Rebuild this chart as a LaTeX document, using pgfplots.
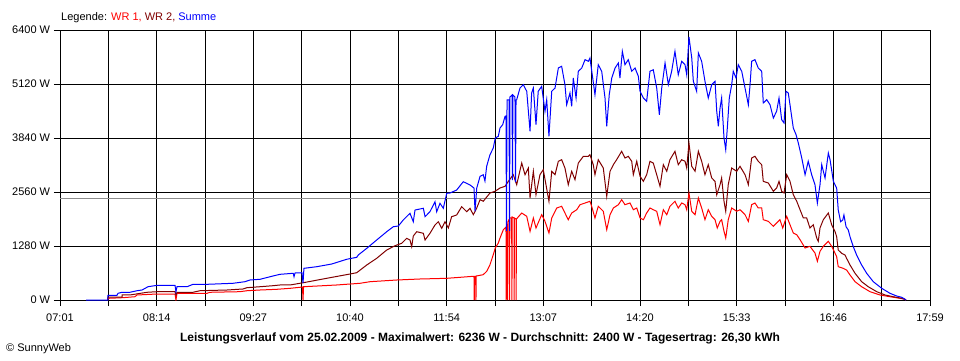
\documentclass[border=0pt]{standalone}
\usepackage{fontspec}
\setmainfont{Liberation Sans}
\usepackage{pgfplots}
\pgfplotsset{compat=1.18}
\definecolor{wrone}{RGB}{255,0,0}
\definecolor{wrtwo}{RGB}{128,0,0}
\definecolor{summe}{RGB}{0,0,255}
\definecolor{avgline}{RGB}{140,140,140}
\begin{document}
\fontsize{11}{13}\selectfont
\begin{tikzpicture}
\useasboundingbox (0pt,0pt) rectangle (960pt,360pt);
\begin{axis}[
  at={(60pt,60pt)}, anchor=south west,
  scale only axis, width=870pt, height=270pt,
  xmin=0, xmax=658, ymin=0, ymax=6400,
  xtick={0,36.556,73.111,109.667,146.222,182.778,219.333,255.889,292.444,329,365.556,402.111,438.667,475.222,511.778,548.333,584.889,621.444,658},
  xticklabels={07:01,,08:14,,09:27,,10:40,,11:54,,13:07,,14:20,,15:33,,16:46,,17:59},
  ytick={0,1280,2560,3840,5120,6400},
  yticklabels={0 W,1280 W,2560 W,3840 W,5120 W,6400 W},
  grid=major, major grid style={black, line width=1pt},
  axis line style={black, line width=1pt},
  tick align=outside, tick pos=left, tick style={black, line width=1pt},
  major tick length=6pt,
  tick label style={font=\fontsize{11}{13}\selectfont},
  xticklabel style={yshift=-4pt},
  every axis plot/.append style={line width=1pt},
]
\addplot[avgline, forget plot] coordinates {(0,2400) (658,2400)};
\addplot[wrone] coordinates {(36.3,0)(36.3,40)(47.6,55)(56.7,78)(58.2,119)(73.4,142)(87.0,142)(87.7,0)(88.5,159)(111.2,159)(113.4,183)(136.1,197)(141.4,220)(151.3,237)(164.1,254)(174.0,277)(183.4,308)(183.8,0)(184.2,315)(209.3,356)(226.9,396)(234.5,434)(254.6,474)(272.3,498)(292.5,514)(312.6,562)(313.1,562)(313.3,0)(313.6,562)(314.4,562)(314.6,0)(314.8,569)(320.1,600)(322.7,680)(325.2,837)(327.7,1074)(329.2,1233)(331.5,1351)(332.8,1470)(335.3,1666)(337.3,1730)(337.5,0)(337.7,1730)(338.3,1778)(338.5,0)(338.7,1849)(339.8,1920)(340.0,0)(340.2,1944)(341.6,1944)(341.8,0)(342.0,1967)(343.4,1944)(343.5,0)(343.7,1944)(344.9,1920)(345.0,0)(345.2,1920)(349.2,2062)(353.0,1984)(355.5,1628)(358.0,1944)(360.0,1707)(364.3,2022)(366.8,1865)(369.8,1588)(371.9,1944)(375.7,2181)(379.4,2221)(381.9,2062)(384.4,1903)(387.0,2062)(390.8,2140)(393.3,2259)(397.1,2299)(400.8,2340)(402.1,2221)(404.6,1944)(407.1,2221)(410.9,2103)(413.5,1666)(416.0,2022)(418.5,2181)(422.3,2259)(424.8,2378)(427.3,2259)(431.1,2299)(433.6,2140)(436.2,2181)(438.7,1944)(441.2,1903)(443.7,2062)(446.2,2181)(448.7,2140)(451.3,2103)(453.8,1785)(456.3,2140)(458.9,2022)(461.3,2221)(465.1,2340)(467.6,2181)(470.2,2299)(472.7,2259)(474.0,2140)(475.7,2536)(477.8,2103)(480.3,2022)(482.8,2418)(485.3,2181)(487.8,1903)(490.3,2140)(492.9,1984)(495.4,1903)(497.1,1707)(499.2,1865)(500.4,1903)(502.2,1628)(503.5,1470)(505.4,1903)(508.0,2181)(511.8,2103)(514.3,2140)(518.1,2022)(520.6,1865)(523.1,2259)(525.6,2299)(528.1,2181)(530.7,2181)(531.9,1903)(535.7,1865)(539.5,1747)(542.0,1825)(544.5,1903)(546.6,1707)(549.6,1984)(552.1,1785)(554.6,1588)(557.2,1548)(559.7,1430)(563.5,1233)(567.2,1273)(571.0,1114)(572.8,917)(574.8,1154)(577.3,1273)(581.1,1391)(583.6,1273)(586.1,1114)(587.4,1026)(588.6,789)(592.4,751)(594.9,711)(597.5,593)(601.3,434)(606.3,315)(612.6,197)(620.2,119)(627.7,78)(635.3,40)(639.1,17)(639.8,0)};
\addplot[wrtwo] coordinates {(36.3,0)(36.3,71)(46.9,71)(46.9,119)(52.9,119)(65.8,183)(73.4,197)(87.0,197)(87.7,119)(88.5,183)(100.6,183)(105.9,220)(126.3,237)(138.4,261)(141.4,292)(151.3,315)(161.1,339)(166.4,356)(174.0,356)(184.0,410)(204.2,529)(219.3,616)(224.4,647)(232.0,830)(239.5,988)(247.1,1185)(253.4,1287)(258.4,1344)(262.2,1463)(264.7,1422)(266.0,1263)(267.2,1517)(269.8,1619)(274.8,1581)(276.1,1422)(279.8,1581)(283.6,1778)(286.1,1856)(288.7,1700)(291.2,1856)(293.7,1707)(296.2,1975)(300.0,2015)(303.8,2212)(307.6,2093)(310.1,2174)(312.6,2022)(315.2,2181)(317.7,2378)(320.1,2340)(325.2,2536)(329.0,2577)(332.8,2655)(336.6,2695)(339.1,2813)(342.8,2970)(345.4,2733)(349.2,3247)(351.7,2970)(354.2,3129)(355.5,2418)(358.0,3051)(360.0,2496)(363.0,2970)(365.5,3089)(369.8,2340)(371.9,3051)(374.4,2970)(376.9,3288)(379.4,3326)(381.9,3129)(384.4,2733)(387.0,3051)(389.5,2852)(392.0,3247)(395.8,3406)(399.6,3406)(400.8,3444)(403.3,3207)(404.6,2970)(407.1,3326)(410.9,3129)(413.5,2458)(416.0,3051)(418.5,3207)(421.0,3326)(424.8,3525)(427.3,3366)(429.8,3406)(432.4,3288)(433.6,2970)(436.2,3288)(438.7,2932)(441.2,2813)(443.7,2970)(446.2,3288)(448.7,3247)(451.3,2970)(453.8,2695)(456.3,3207)(458.9,3051)(461.3,3326)(465.1,3525)(467.6,3207)(470.2,3326)(472.7,3288)(474.0,3129)(475.7,3721)(477.8,3169)(480.3,3051)(482.8,3525)(485.3,3288)(487.8,2970)(490.3,3207)(492.9,2892)(495.4,2813)(496.7,2496)(499.2,2733)(500.4,2892)(502.2,2340)(503.5,2103)(505.4,2733)(508.0,3129)(511.8,3051)(514.3,3169)(518.1,2970)(520.6,2733)(523.1,3366)(525.6,3406)(528.1,3288)(530.7,3207)(531.9,2813)(535.7,2773)(539.5,2577)(542.0,2655)(543.8,2813)(545.8,2577)(547.6,2536)(549.6,2970)(552.1,2813)(554.6,2496)(557.2,2340)(559.7,2140)(562.2,1944)(564.7,1944)(567.2,1707)(569.7,1785)(572.3,1470)(573.5,1391)(574.8,1707)(577.3,1903)(581.1,2062)(583.6,1785)(586.1,1628)(587.4,1500)(588.6,1185)(591.2,1107)(593.7,1067)(594.9,988)(597.5,830)(601.3,633)(606.3,434)(611.3,315)(617.7,197)(624.0,119)(630.2,78)(636.6,40)(639.1,17)(639.8,0)};
\addplot[summe] coordinates {(19.7,0)(36.3,0)(36.3,111)(43.1,111)(43.9,159)(46.9,183)(52.9,183)(58.2,220)(62.0,237)(66.6,315)(73.4,348)(87.0,348)(87.7,197)(88.5,315)(96.1,315)(100.6,372)(111.2,372)(130.8,396)(139.9,434)(143.7,474)(151.3,491)(161.1,569)(166.4,609)(176.4,633)(177.0,552)(177.7,640)(183.0,647)(183.8,403)(184.5,751)(194.1,789)(205.5,853)(216.8,965)(224.4,1012)(225.6,1067)(232.0,1225)(239.5,1422)(247.1,1619)(252.1,1737)(255.9,1754)(259.6,1896)(264.7,2055)(267.2,1856)(268.5,2133)(274.8,2174)(276.1,1975)(279.8,2093)(283.6,2330)(284.9,2093)(287.4,2292)(289.9,2174)(292.5,2529)(295.0,2536)(300.0,2607)(305.0,2804)(310.1,2726)(313.1,2655)(313.9,2103)(315.2,2655)(317.7,2932)(320.1,2970)(321.4,2821)(322.7,3169)(325.2,3444)(327.7,3603)(329.2,3840)(331.5,3880)(332.8,4077)(334.8,4155)(336.6,4354)(337.3,4361)(337.7,1636)(338.1,4741)(339.6,4741)(340.0,1636)(340.3,4812)(341.9,4859)(342.2,2844)(342.6,4859)(344.1,4812)(344.5,2797)(344.9,4741)(345.4,4748)(347.9,5025)(350.4,5104)(353.0,4947)(355.5,3999)(356.7,4907)(358.0,5025)(360.0,4155)(361.7,4947)(364.3,5065)(366.8,4473)(368.1,4748)(369.8,3880)(371.9,4947)(374.4,5025)(376.9,5499)(379.4,5540)(381.9,5104)(383.2,4629)(385.7,4907)(387.0,4591)(388.2,5262)(390.3,4788)(392.0,5421)(394.6,5499)(397.1,5696)(399.6,5658)(400.8,5736)(402.9,5262)(404.6,4866)(407.1,5577)(409.7,5421)(412.2,4788)(413.5,4117)(415.4,4866)(417.3,5262)(419.8,5499)(422.3,5618)(423.5,5262)(425.3,5895)(427.3,5577)(429.8,5696)(432.4,5421)(434.9,5499)(437.4,5303)(438.7,4947)(441.2,4788)(443.7,4710)(446.2,5421)(448.7,5459)(451.3,5025)(453.3,4392)(455.1,5025)(457.6,5618)(460.1,5104)(462.6,5421)(465.1,5895)(467.6,5340)(470.2,5658)(472.7,5577)(474.0,5340)(475.7,6236)(477.8,5736)(479.0,5184)(481.5,4947)(482.8,5855)(485.3,5658)(487.8,5184)(490.3,4788)(492.9,5104)(495.4,5184)(496.7,4473)(497.9,4117)(499.2,4551)(500.4,4788)(502.2,3840)(503.5,3563)(504.7,4077)(506.2,4788)(508.0,5104)(509.2,5421)(511.3,5262)(513.0,5577)(515.6,5421)(518.1,5025)(520.6,4629)(521.9,5104)(523.1,5658)(525.6,5696)(528.1,5499)(530.7,5421)(531.9,4670)(534.5,4748)(537.0,4629)(539.5,4314)(542.0,4473)(543.8,4788)(545.8,4274)(547.6,4196)(549.1,4947)(550.8,4907)(552.1,4629)(554.6,4077)(556.7,3918)(558.4,3721)(561.0,3366)(563.5,2970)(565.9,3288)(568.5,2970)(571.0,2733)(572.8,2299)(574.8,2733)(576.1,3207)(578.6,2892)(581.1,3484)(582.4,3326)(584.9,2813)(587.4,2655)(588.6,2133)(590.4,1856)(592.0,1896)(592.9,2015)(594.5,1737)(596.2,1659)(597.5,1500)(600.0,1263)(602.5,1067)(606.3,830)(610.1,633)(615.1,434)(621.5,277)(627.7,159)(632.8,95)(636.6,64)(639.1,17)(639.8,0)};
\end{axis}
\node[anchor=base west, inner sep=0pt] at (61pt,339.3pt) {Legende: \textcolor{wrone}{WR 1,} \textcolor{wrtwo}{WR 2,} \textcolor{summe}{Summe}};
\node[anchor=base, inner sep=0pt, font=\fontsize{12}{14}\selectfont\bfseries] at (480pt,19pt) {Leistungsverlauf vom 25.02.2009 - Maximalwert: 6236 W - Durchschnitt: 2400 W - Tagesertrag: 26,30 kWh};
\node[anchor=base west, inner sep=0pt] at (6pt,9pt) {\textcopyright{} SunnyWeb};
\end{tikzpicture}
\end{document}
